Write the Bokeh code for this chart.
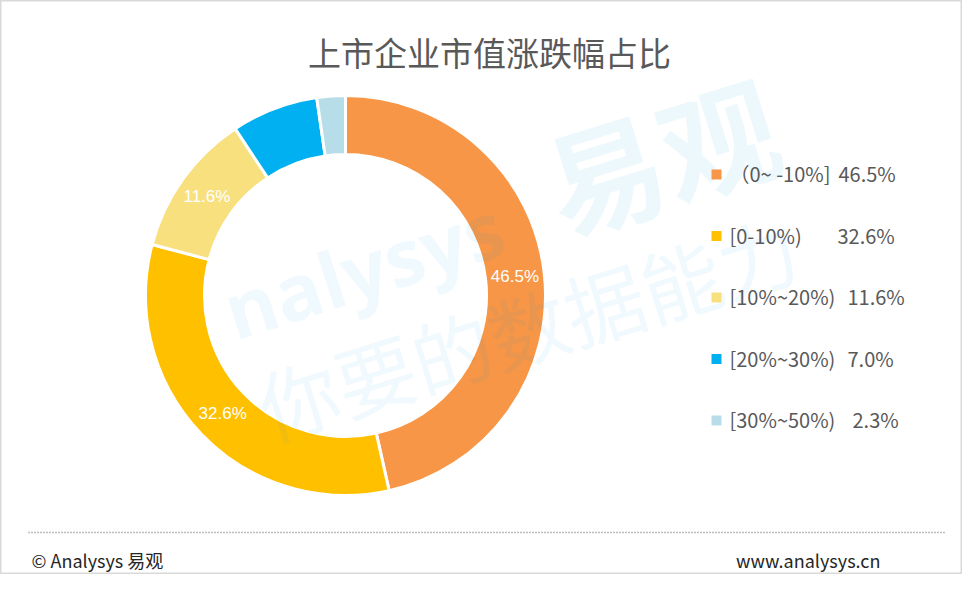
import math
from bokeh.plotting import figure
from bokeh.models import Range1d, ColumnDataSource
from bokeh.core.properties import value
from bokeh.embed import file_html
from bokeh.resources import INLINE

# ---- data ----
title_text = "上市企业市值涨跌幅占比"
categories = ["（0~ -10%]", "[0-10%)", "[10%~20%)", "[20%~30%)", "[30%~50%)"]
shares = [46.5, 32.6, 11.6, 7.0, 2.3]
colors = ["#F79646", "#FFC000", "#F8E07F", "#00B0F0", "#B7DEE8"]
show_label = [True, True, True, False, False]
footer_left = "© Analysys 易观"
footer_right = "www.analysys.cn"

W, H = 962, 574


def Y(py):
    return H - py


p = figure(width=W, height=H, output_backend="svg", toolbar_location=None,
           x_range=Range1d(0, W), y_range=Range1d(0, H),
           min_border=0, min_border_left=0, min_border_right=0,
           min_border_top=0, min_border_bottom=0)
p.axis.visible = False
p.grid.visible = False
p.outline_line_color = "#d9d9d9"
p.outline_line_width = 2
p.background_fill_color = "white"
p.border_fill_color = "white"

# ---- donut ----
cx, cy = 345, Y(295)
r_in, r_out = 141, 200
total = sum(shares)
starts, ends, mids = [], [], []
cum = 0.0
for s in shares:
    a0 = math.pi / 2 - 2 * math.pi * cum / total
    cum += s
    a1 = math.pi / 2 - 2 * math.pi * cum / total
    starts.append(a0)
    ends.append(a1)
    mids.append((a0 + a1) / 2)

src = ColumnDataSource(dict(start=starts, end=ends, color=colors))
p.annular_wedge(x=cx, y=cy, inner_radius=r_in, outer_radius=r_out,
                start_angle="start", end_angle="end", direction="clock",
                fill_color="color", line_color="white", line_width=3, source=src)

# ---- watermark ----
wm_color = "#00A0E9"
p.text(x=[363], y=[Y(268)], text=["nalysys"], angle=0.31,
       text_font=value("Open Sans"), text_font_style="bold", text_font_size="78px",
       text_color=wm_color, text_alpha=0.06, text_align="center", text_baseline="middle")
p.text(x=[660], y=[Y(152)], text=["易观"], angle=0.30,
       text_font=value("Noto Sans CJK SC"), text_font_style="bold", text_font_size="118px",
       text_color=wm_color, text_alpha=0.07, text_align="center", text_baseline="middle")
p.text(x=[527], y=[Y(325)], text=["你要的数据能力"], angle=0.30,
       text_font=value("Noto Sans CJK SC"), text_font_size="80px",
       text_color=wm_color, text_alpha=0.06, text_align="center", text_baseline="middle")

# ---- slice labels ----
r_lab = (r_in + r_out) / 2
lx, ly, lt = [], [], []
for s, m, sh in zip(shares, mids, show_label):
    if sh:
        lx.append(cx + r_lab * math.cos(m))
        ly.append(cy + r_lab * math.sin(m))
        lt.append(f"{s:.1f}%")
p.text(x=lx, y=ly, text=lt, text_font=value("Liberation Sans"),
       text_font_size="17px", text_color="white", text_align="center",
       text_baseline="middle")

# ---- title ----
p.text(x=[489], y=[Y(51)], text=[title_text], text_font=value("Noto Sans CJK SC"),
       text_font_size="33px", text_color="#595959", text_align="center",
       text_baseline="middle")

# ---- legend ----
row_y = [Y(174 + i * 61.5) for i in range(len(categories))]
p.scatter(x=[716] * len(categories), y=row_y, marker="square", size=10,
          fill_color=colors, line_color=None)
p.text(x=[729] * len(categories), y=[v + 1 for v in row_y], text=categories,
       text_font=value("Noto Sans CJK SC"), text_font_size="20px",
       text_color="#595959", text_align="left", text_baseline="middle")
val_x = [838, 837, 847, 847, 852]
p.text(x=val_x, y=[v + 1 for v in row_y], text=[f"{s:.1f}%" for s in shares],
       text_font=value("Noto Sans CJK SC"), text_font_size="20px",
       text_color="#595959", text_align="left", text_baseline="middle")

# ---- footer ----
p.line(x=[28, 945], y=[Y(532), Y(532)], line_color="#7f7f7f", line_width=1.5,
       line_dash="1 2")
p.text(x=[31], y=[Y(559)], text=[footer_left], text_font=value("Noto Sans CJK SC"),
       text_font_size="18px", text_color="#262626", text_align="left",
       text_baseline="middle")
p.text(x=[880], y=[Y(559)], text=[footer_right], text_font=value("Noto Sans CJK SC"),
       text_font_size="18px", text_color="#262626", text_align="right",
       text_baseline="middle")

open("out.html", "w").write(file_html(p, INLINE))
